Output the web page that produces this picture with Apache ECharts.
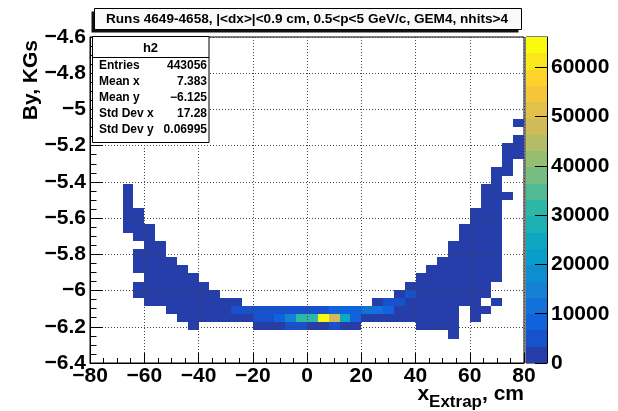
<!DOCTYPE html>
<html><head><meta charset="utf-8">
<script src="https://cdn.jsdelivr.net/npm/echarts@6.0.0/dist/echarts.min.js"></script>
<style>html,body{margin:0;padding:0;background:#fff}#c{width:618px;height:411px}</style>
</head><body><div id="c"></div>
<script>
const FONT = '"Liberation Sans", Arial, Helvetica, sans-serif';
const titleText = 'Runs 4649-4658, |<dx>|<0.9 cm, 0.5<p<5 GeV/c, GEM4, nhits>4';
const histName = 'h2';
const statNames = ['Entries', 'Mean x', 'Mean y', 'Std Dev x', 'Std Dev y'];
const statValues = ['443056', '7.383', '\u22126.125', '17.28', '0.06995'];
const xTitleMain = 'x', xTitleSub = 'Extrap', xTitleEnd = ', cm';
const yTitle = 'By, KGs';

const xRange = [-80, 80];
const yRange = [-6.4, -4.6];
const xBinWidth = 4;
const yBinWidth = 0.045;
const xBinCenters = [-78,-74,-70,-66,-62,-58,-54,-50,-46,-42,-38,-34,-30,-26,-22,-18,-14,-10,-6,-2,
                     2,6,10,14,18,22,26,30,34,38,42,46,50,54,58,62,66,70,74,78];
// y-bin centers of the rows below, top row first
const yRowCenters = [-5.0725,-5.1175,-5.1625,-5.2075,-5.2525,-5.2975,-5.3425,-5.3875,-5.4325,-5.4775,
                     -5.5225,-5.5675,-5.6125,-5.6575,-5.7025,-5.7475,-5.7925,-5.8375,-5.8825,-5.9275,
                     -5.9725,-6.0175,-6.0625,-6.1075,-6.1525,-6.1975,-6.2425];
const rowCounts = [
 [0,0,0,0,0,0,0,0,0,0, 0,0,0,0,0,0,0,0,0,0, 0,0,0,0,0,0,0,0,0,0, 0,0,0,0,0,0,0,0,0,180],
 [0,0,0,0,0,0,0,0,0,0, 0,0,0,0,0,0,0,0,0,0, 0,0,0,0,0,0,0,0,0,0, 0,0,0,0,0,0,0,0,0,0],
 [0,0,0,0,0,0,0,0,0,0, 0,0,0,0,0,0,0,0,0,0, 0,0,0,0,0,0,0,0,0,0, 0,0,0,0,0,0,0,0,0,260],
 [0,0,0,0,0,0,0,0,0,0, 0,0,0,0,0,0,0,0,0,0, 0,0,0,0,0,0,0,0,0,0, 0,0,0,0,0,0,0,0,310,420],
 [0,0,0,0,0,0,0,0,0,0, 0,0,0,0,0,0,0,0,0,0, 0,0,0,0,0,0,0,0,0,0, 0,0,0,0,0,0,0,0,450,380],
 [0,0,0,0,0,0,0,0,0,0, 0,0,0,0,0,0,0,0,0,0, 0,0,0,0,0,0,0,0,0,0, 0,0,0,0,0,0,0,0,520,0],
 [0,0,0,0,0,0,0,0,0,0, 0,0,0,0,0,0,0,0,0,0, 0,0,0,0,0,0,0,0,0,0, 0,0,0,0,0,0,0,330,560,0],
 [0,0,0,0,0,0,0,0,0,0, 0,0,0,0,0,0,0,0,0,0, 0,0,0,0,0,0,0,0,0,0, 0,0,0,0,0,0,0,610,0,0],
 [0,0,0,150,0,0,0,0,0,0, 0,0,0,0,0,0,0,0,0,0, 0,0,0,0,0,0,0,0,0,0, 0,0,0,0,0,0,280,720,0,0],
 [0,0,0,240,0,0,0,0,0,0, 0,0,0,0,0,0,0,0,0,0, 0,0,0,0,0,0,0,0,0,0, 0,0,0,0,0,0,540,760,120,0],
 [0,0,0,310,0,0,0,0,0,0, 0,0,0,0,0,0,0,0,0,0, 0,0,0,0,0,0,0,0,0,0, 0,0,0,0,0,0,690,820,0,0],
 [0,0,0,330,160,0,0,0,0,0, 0,0,0,0,0,0,0,0,0,0, 0,0,0,0,0,0,0,0,0,0, 0,0,0,0,0,270,780,860,0,0],
 [0,0,0,290,420,0,0,0,0,0, 0,0,0,0,0,0,0,0,0,0, 0,0,0,0,0,0,0,0,0,0, 0,0,0,0,0,610,840,810,0,0],
 [0,0,0,210,510,140,0,0,0,0, 0,0,0,0,0,0,0,0,0,0, 0,0,0,0,0,0,0,0,0,0, 0,0,0,0,250,780,900,740,0,0],
 [0,0,0,0,460,380,0,0,0,0, 0,0,0,0,0,0,0,0,0,0, 0,0,0,0,0,0,0,0,0,0, 0,0,0,0,560,870,930,690,0,0],
 [0,0,0,0,0,520,170,0,0,0, 0,0,0,0,0,0,0,0,0,0, 0,0,0,0,0,0,0,0,0,0, 0,0,0,230,710,920,910,620,0,0],
 [0,0,0,0,120,580,390,0,0,0, 0,0,0,0,0,0,0,0,0,0, 0,0,0,0,0,0,0,0,0,0, 0,0,0,530,820,960,870,540,0,0],
 [0,0,0,0,190,610,540,160,0,0, 0,0,0,0,0,0,0,0,0,0, 0,0,0,0,0,0,0,0,0,0, 0,0,240,690,900,1010,820,470,0,0],
 [0,0,0,0,140,640,620,430,150,0, 0,0,0,0,0,0,0,0,0,0, 0,0,0,0,0,0,0,0,0,0, 0,260,620,850,980,1040,760,380,0,0],
 [0,0,0,0,0,590,700,610,420,170, 0,0,0,0,0,0,0,0,0,0, 0,0,0,0,0,0,0,0,0,0, 280,650,880,1020,1060,990,680,260,0,0],
 [0,0,0,0,110,520,760,780,690,480, 190,0,0,0,0,0,0,0,0,0, 0,0,0,0,0,0,0,0,0,320, 780,1050,1190,1240,1150,940,540,0,0,0],
 [0,0,0,0,130,430,810,950,1020,880, 640,280,0,0,0,0,0,0,0,0, 0,0,0,0,0,0,0,0,1100,3900, 1900,1650,1560,1490,1280,990,420,0,0,0],
 [0,0,0,0,0,260,650,1050,1310,1420, 1360,1120,820,650,0,0,0,0,0,0, 0,0,0,0,0,0,2400,4600,4300,3000, 2600,2200,1900,1700,1350,880,0,140,0,0],
 [0,0,0,0,0,0,0,520,1240,1780, 2150,2480,2900,4200,4900,5200,5500,5800,6000,6200, 6300,6400,8000,8500,8200,10500,10200,8100,3100,2700, 2300,2000,1700,1300,0,650,240,0,0,0],
 [0,0,0,0,0,0,0,0,310,870, 1320,1680,2050,2500,3000,5600,6300,9200,14800,30500, 31800,66140,48000,24500,9600,3200,2900,2600,2400,2100, 1800,1500,1200,900,0,300,0,0,0,0],
 [0,0,0,0,0,0,0,0,0,180, 0,0,0,0,0,1300,1900,2600,5000,5400, 3200,3100,4800,2700,1600,0,0,0,0,0, 650,720,610,470,0,0,0,0,0,0],
 [0,0,0,0,0,0,0,0,0,0, 0,0,0,0,0,0,0,0,0,0, 0,0,0,0,0,0,0,0,0,0, 0,0,0,150,0,0,0,0,0,0]
];
const nContours = 20;
const zTickStep = 10000;

// ROOT kBird palette stops
const birdStops = [0, 0.125, 0.25, 0.375, 0.5, 0.625, 0.75, 0.875, 1];
const birdR = [0.2082, 0.0592, 0.0780, 0.0232, 0.1802, 0.5301, 0.8186, 0.9956, 0.9764];
const birdG = [0.1664, 0.3599, 0.5041, 0.6419, 0.7178, 0.7492, 0.7328, 0.7862, 0.9832];
const birdB = [0.5293, 0.8684, 0.8385, 0.7914, 0.6425, 0.4662, 0.3499, 0.1968, 0.0539];
function bird(f) {
  f = Math.max(0, Math.min(1, f));
  let k = 0;
  while (k < birdStops.length - 2 && f > birdStops[k + 1]) k++;
  const t = (f - birdStops[k]) / (birdStops[k + 1] - birdStops[k]);
  const c = a => Math.round(255 * (a[k] + (a[k + 1] - a[k]) * t));
  return 'rgb(' + c(birdR) + ',' + c(birdG) + ',' + c(birdB) + ')';
}

const cells = [];
rowCounts.forEach((row, r) => row.forEach((v, i) => {
  if (v > 0) cells.push([xBinCenters[i], yRowCenters[r], v]);
}));
const zMax = Math.max(...cells.map(c => c[2]));
const zStep = zMax / nContours;
const bandColors = [];
for (let k = 0; k < nContours; k++) bandColors.push(bird((k + 0.99) / nContours));
const bands = bandColors.map((c, k) => [k * zStep, (k + 1) * zStep, k]);
const pieces = bands.map(b => (b[2] === nContours - 1
  ? { gte: b[0], lte: zMax + 1, color: bandColors[b[2]] }
  : { gte: b[0], lt: b[1], color: bandColors[b[2]] }));

const fmtNum = v => String(+(+v).toFixed(3)).replace('-', '\u2212');
const labelStyle = { fontFamily: FONT, fontWeight: 'bold', fontSize: 21, color: '#000' };

function cellRect(api, xa, ya, xb, yb, col) {
  const p0 = api.coord([xa, ya]);
  const p1 = api.coord([xb, yb]);
  const x0 = Math.round(p0[0]), y0 = Math.round(p0[1]);
  const x1 = Math.round(p1[0]), y1 = Math.round(p1[1]);
  return { type: 'rect', shape: { x: x0, y: y0, width: x1 - x0, height: y1 - y0 },
           style: { fill: col } };
}

const chart = echarts.init(document.getElementById('c'), null, { renderer: 'canvas', width: 618, height: 411 });
chart.setOption({
  animation: false,
  backgroundColor: '#fff',
  grid: [
    { left: 90, top: 37, width: 434, height: 326, show: true, borderColor: '#000', borderWidth: 1, backgroundColor: 'transparent' },
    { left: 526, top: 37, width: 21, height: 326, show: true, borderColor: '#000', borderWidth: 1, backgroundColor: 'transparent' }
  ],
  xAxis: [
    { type: 'value', gridIndex: 0, min: xRange[0], max: xRange[1], interval: 20, z: 5,
      axisLine: { show: true, onZero: false, lineStyle: { color: '#000', width: 1 } },
      axisTick: { show: true, inside: true, length: 10, lineStyle: { color: '#000', width: 1 } },
      minorTick: { show: true, splitNumber: 4, length: 5, lineStyle: { color: '#000', width: 1 } },
      splitLine: { show: true, lineStyle: { color: '#444', width: 1, type: [1, 2] } },
      axisLabel: Object.assign({ margin: 3, formatter: fmtNum }, labelStyle) },
    { type: 'value', gridIndex: 1, min: 0, max: 1, show: false }
  ],
  yAxis: [
    { type: 'value', gridIndex: 0, min: yRange[0], max: yRange[1], interval: 0.2, z: 5,
      axisLine: { show: true, onZero: false, lineStyle: { color: '#000', width: 1 } },
      axisTick: { show: true, inside: true, length: 13, lineStyle: { color: '#000', width: 1 } },
      minorTick: { show: true, splitNumber: 4, length: 6.5, lineStyle: { color: '#000', width: 1 } },
      splitLine: { show: true, lineStyle: { color: '#444', width: 1, type: [1, 2] } },
      axisLabel: Object.assign({ margin: 4, formatter: fmtNum }, labelStyle) },
    { type: 'value', gridIndex: 1, position: 'right', min: 0, max: zMax, interval: zTickStep, z: 5,
      axisLine: { show: true, onZero: false, lineStyle: { color: '#000', width: 1 } },
      axisTick: { show: true, inside: true, length: 12, lineStyle: { color: '#000', width: 1 } },
      splitLine: { show: false },
      axisLabel: Object.assign({ margin: 4, showMaxLabel: false, formatter: v => String(Math.round(v)) }, labelStyle) }
  ],
  visualMap: { show: false, type: 'piecewise', seriesIndex: 0, dimension: 2, pieces: pieces },
  series: [
    { type: 'custom', xAxisIndex: 0, yAxisIndex: 0, data: cells, clip: true,
      renderItem: function (params, api) {
        const x = api.value(0), y = api.value(1);
        return cellRect(api, x - xBinWidth / 2, y + yBinWidth / 2, x + xBinWidth / 2, y - yBinWidth / 2, api.visual('color'));
      } },
    { type: 'custom', xAxisIndex: 1, yAxisIndex: 1, data: bands, clip: false,
      renderItem: function (params, api) {
        return cellRect(api, 0, api.value(1), 1, api.value(0), bandColors[api.value(2)]);
      } }
  ],
  graphic: [
    // title pave with shadow
    { type: 'rect', z: 10, shape: { x: 91.5, y: 11.5, width: 427, height: 21 }, style: { fill: '#111' } },
    { type: 'rect', z: 11, shape: { x: 94.5, y: 8.5, width: 427, height: 21 }, style: { fill: '#fafafa', stroke: '#000', lineWidth: 1 } },
    { type: 'text', z: 12, x: 307, y: 19.5, style: { text: titleText, align: 'center', verticalAlign: 'middle', font: 'bold 13.6px ' + FONT, fill: '#000' } },
    // stats box
    { type: 'rect', z: 10, shape: { x: 92.5, y: 36.5, width: 116.5, height: 106 }, style: { fill: '#fff', stroke: '#000', lineWidth: 1 } },
    { type: 'line', z: 11, shape: { x1: 92.5, y1: 57.5, x2: 209, y2: 57.5 }, style: { stroke: '#000', lineWidth: 1 } },
    { type: 'text', z: 12, x: 150.5, y: 48, style: { text: histName, align: 'center', verticalAlign: 'middle', font: 'bold 13px ' + FONT, fill: '#000' } },
    ...statNames.map((n, k) => ({ type: 'text', z: 12, x: 99, y: 65.5 + 16 * k,
      style: { text: n, align: 'left', verticalAlign: 'middle', font: 'bold 12px ' + FONT, fill: '#000' } })),
    ...statValues.map((v, k) => ({ type: 'text', z: 12, x: 207, y: 65.5 + 16 * k,
      style: { text: v, align: 'right', verticalAlign: 'middle', font: 'bold 12px ' + FONT, fill: '#000' } })),
    // axis titles
    { type: 'text', z: 12, x: 31, y: 40, rotation: Math.PI / 2,
      style: { text: yTitle, align: 'right', verticalAlign: 'middle', font: 'bold 21px ' + FONT, fill: '#000' } },
    { type: 'text', z: 12, x: 524, y: 384,
      style: { text: '{m|' + xTitleMain + '}{s|' + xTitleSub + '}{m|' + xTitleEnd + '}', align: 'right', verticalAlign: 'top',
        rich: { m: { fontFamily: FONT, fontWeight: 'bold', fontSize: 21, lineHeight: 21, verticalAlign: 'top', fill: '#000' },
                s: { fontFamily: FONT, fontWeight: 'bold', fontSize: 17, lineHeight: 17, padding: [10, 0, 0, 0], verticalAlign: 'top', fill: '#000' } } } }
  ]
});
</script></body></html>
